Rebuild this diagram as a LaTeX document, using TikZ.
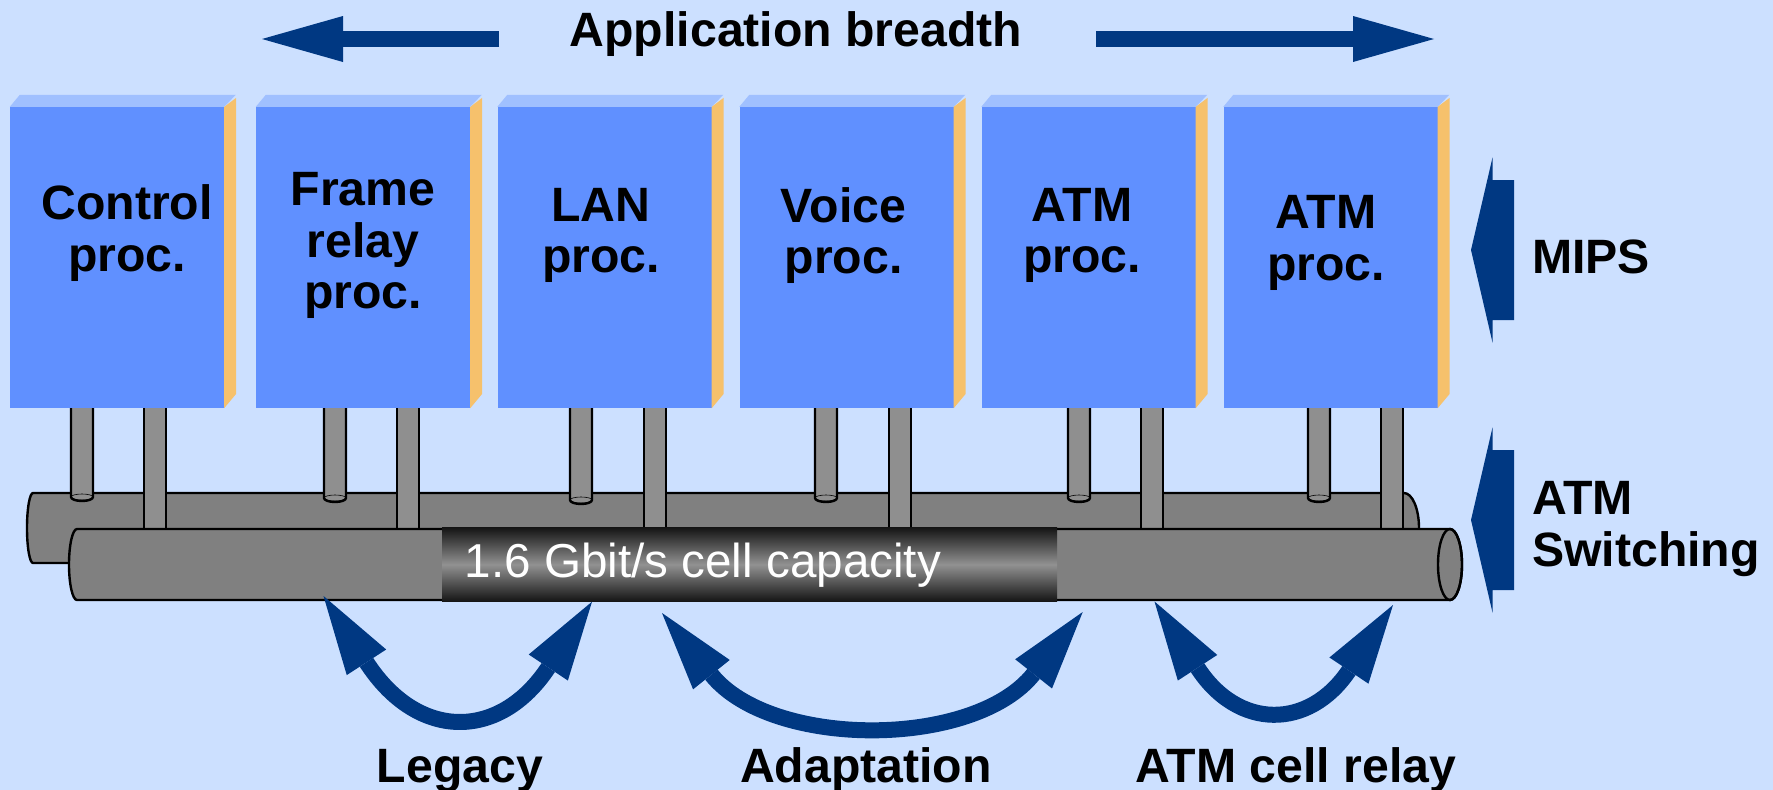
\documentclass[tikz,border=0pt]{standalone}
\usepackage{fontspec}
\setmainfont{Liberation Sans}
\usetikzlibrary{arrows.meta}
\definecolor{pagebg}{HTML}{CCE0FF}
\definecolor{procfill}{HTML}{6090FF}
\definecolor{proctop}{HTML}{A0C0FF}
\definecolor{procedge}{HTML}{F6C16C}
\definecolor{arrowblue}{HTML}{003882}
\definecolor{postgray}{HTML}{8F8F8F}
\tikzstyle{procfront}=[fill=procfill, inner sep=0pt, minimum width=214pt, minimum height=301pt]
\tikzstyle{bold}=[font=\fontsize{48.2}{51.5}\selectfont\bfseries, align=center, inner sep=0pt]
\tikzstyle{tube}=[draw=black, fill=black!50, line width=2.4pt]
\tikzstyle{post}=[draw=black, fill=postgray, line width=2.4pt]
\tikzstyle{bendarrow}=[draw=arrowblue, line width=16pt, arrows={Triangle[length=79pt,width=47pt,line width=0pt]-Triangle[length=79pt,width=47pt,line width=0pt]}]
\tikzstyle{thinarrow}=[draw=arrowblue, line width=16pt, arrows={-Triangle[length=81pt,width=46pt,line width=0pt]}]
% box front with its side and top faces
\newcommand{\procbox}[2]{
\node[procfront] (#1) at (#2,257.5) {};
\fill[procedge] (#1.north east) -- ++(12,-9) -- ++(0,296) -- (#1.south east) -- cycle;
\fill[proctop] (#1.north west) -- ++(10,-12) -- ++(216,0) -- (#1.north east) -- cycle;
}
\newcommand{\tallpost}[1]{\draw[post] (#1-11,400) rectangle (#1+11,532);}
\newcommand{\shortpost}[2]{
\draw[post] (#1-11,400) -- (#1-11,#2) arc[start angle=180,end angle=360,x radius=11pt,y radius=4pt] -- (#1+11,400) -- cycle;
\draw[line width=.6pt] (#1,#2) ellipse[x radius=11pt,y radius=3pt];
}
% wide arrow that points left, tip at height #1
\newcommand{\blockarrow}[1]{
\fill[arrowblue] (1471,#1) -- (1492.5,#1-92.5) -- (1492.5,#1-70) -- (1514,#1-70) -- (1514,#1+70) -- (1492.5,#1+70) -- (1492.5,#1+92.5) -- cycle;
}

\begin{document}
\begin{tikzpicture}[x=1pt, y=-1pt]
\useasboundingbox[fill=pagebg] (0,0) rectangle (1773,790);
% back tube and posts
\draw[tube] (33,493) -- (1404,493) arc[start angle=90,end angle=-90,x radius=15pt,y radius=35pt] -- (33,563) arc[start angle=270,end angle=90,x radius=6pt,y radius=35pt] -- cycle;
\shortpost{82}{497}
\shortpost{335}{498}
\shortpost{581}{500}
\shortpost{826}{498}
\shortpost{1079}{498}
\shortpost{1319}{498}
\tallpost{155}
\tallpost{408}
\tallpost{655}
\tallpost{900}
\tallpost{1152}
\tallpost{1392}
% front tube
\draw[tube] (77,529) -- (1450,529) arc[start angle=90,end angle=-90,x radius=12pt,y radius=35.5pt] -- (77,600) arc[start angle=270,end angle=90,x radius=8pt,y radius=35.5pt] -- cycle;
\draw[line width=2.4pt] (1450,564.5) ellipse[x radius=12pt,y radius=35.5pt];
\node[inner sep=0pt, minimum width=615pt, minimum height=74pt, top color=black!92, bottom color=black!92, middle color=black!43] (capband) at (749.5,564.5) {};
\node[anchor=base west, inner sep=0pt, white, font=\fontsize{47.6}{51}\selectfont] (captext) at (464.6,577) {1.6 Gbit/s cell capacity};
% processor boxes
\procbox{control}{117}
\procbox{frame}{363}
\procbox{lan}{604.5}
\procbox{voice}{846.5}
\procbox{atma}{1088.5}
\procbox{atmb}{1330.5}
\node[bold] (controltext) at (127,233) {Control\\proc.};
\node[bold] (frametext) at (363,245.5) {Frame\\relay\\proc.};
\node[bold] (lantext) at (601,235.5) {LAN\\proc.};
\node[bold] (voicetext) at (843.5,235.5) {Voice\\proc.};
\node[bold] (atmatext) at (1082,235.5) {ATM\\proc.};
\node[bold] (atmbtext) at (1326,243) {ATM\\proc.};
% arrows along the top and at the side
\node[bold, anchor=base] (breadth) at (796,46) {Application breadth};
\coordinate (leftstart) at (499,39);
\coordinate (lefttip) at (262,39);
\coordinate (rightstart) at (1096,39);
\coordinate (righttip) at (1434,39);
\draw[thinarrow] (leftstart) -- (lefttip);
\draw[thinarrow] (rightstart) -- (righttip);
\blockarrow{250}
\blockarrow{520}
\node[bold, anchor=base west] (mips) at (1532,273.5) {MIPS};
\node[bold, anchor=base west, align=left] (switching) at (1532,566) {ATM\\Switching};
% bent arrows under the tube
\coordinate (legacyl) at (323.5,596);
\coordinate (legacyr) at (592,601.7);
\coordinate (adaptl) at (662,613);
\coordinate (adaptr) at (1082.7,612);
\coordinate (relayl) at (1154.5,601.5);
\coordinate (relayr) at (1393,605);
\draw[bendarrow] (legacyl) .. controls (417.5,741) and (499.5,741) .. (legacyr);
\draw[bendarrow] (adaptl) .. controls (771,749) and (974,749) .. (adaptr);
\draw[bendarrow] (relayl) .. controls (1238,730) and (1309,730) .. (relayr);
\node[bold, anchor=base] (legacy) at (460,782.5) {Legacy};
\node[bold, anchor=base] (adaptation) at (866,782) {Adaptation};
\node[bold, anchor=base] (relay) at (1296,782) {ATM cell relay};
\end{tikzpicture}
\end{document}
